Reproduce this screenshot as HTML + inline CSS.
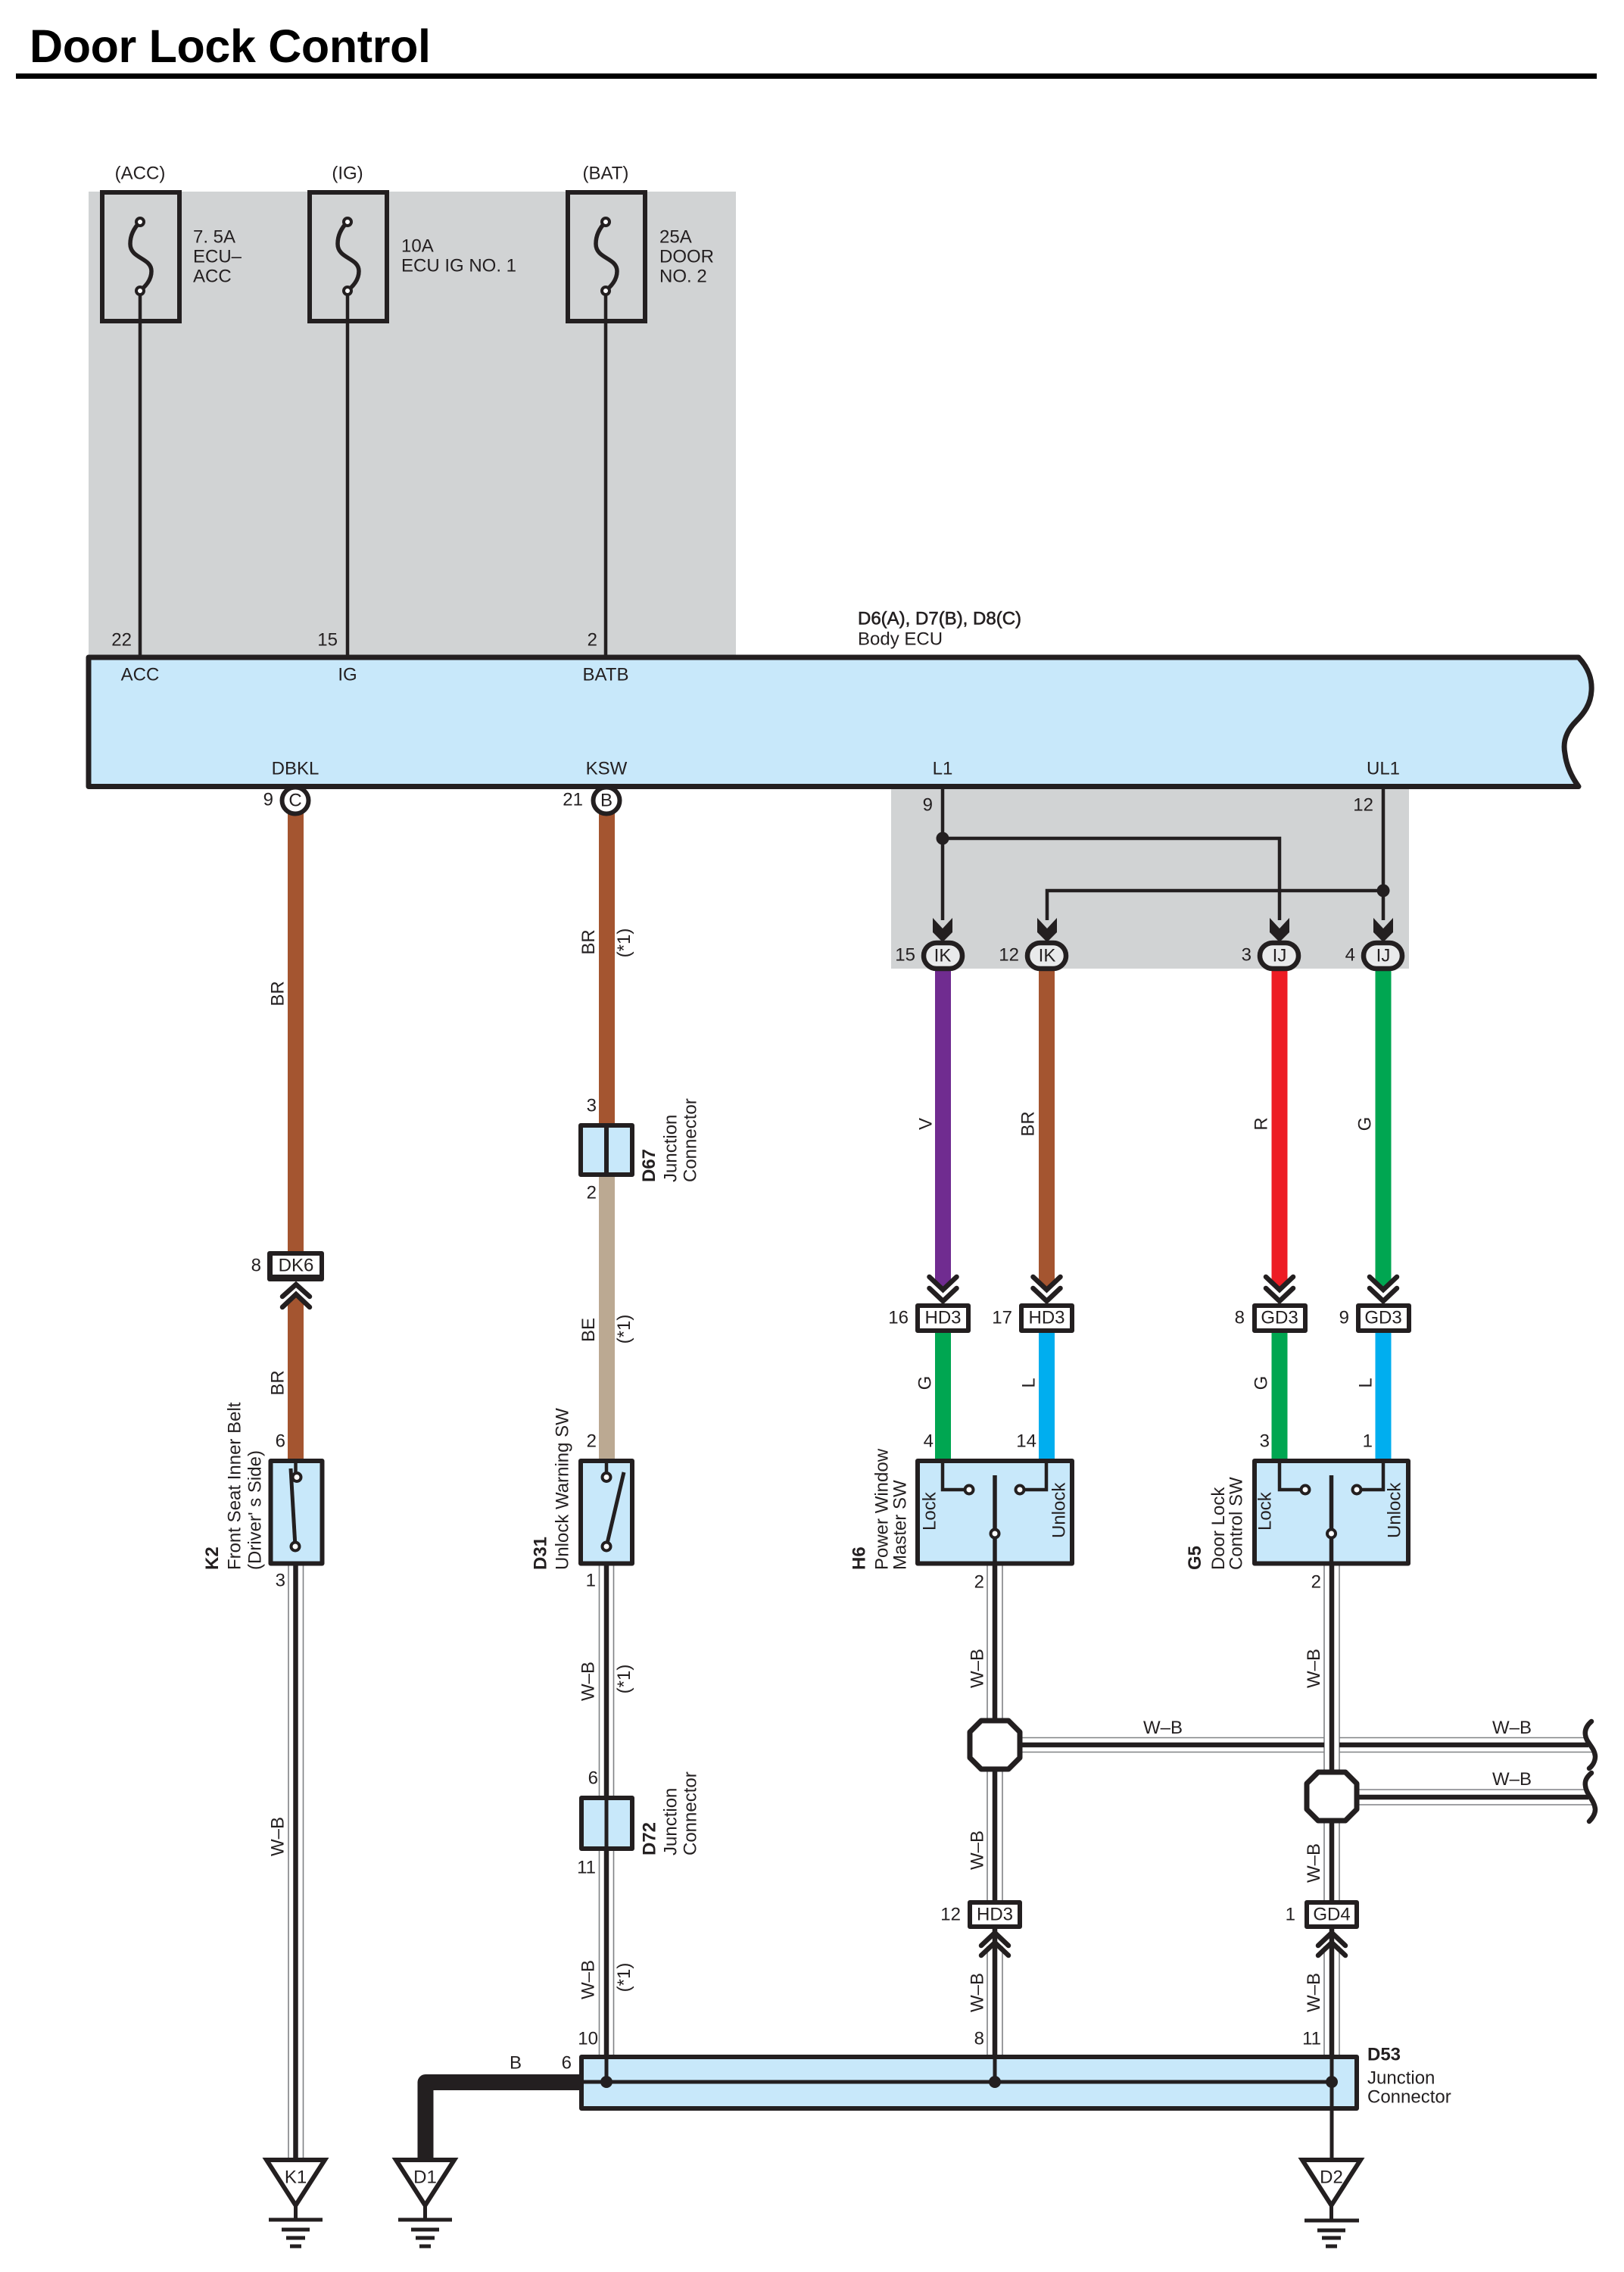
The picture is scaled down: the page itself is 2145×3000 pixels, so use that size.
<!DOCTYPE html>
<html><head><meta charset="utf-8"><title>Door Lock Control</title>
<style>
html,body{margin:0;padding:0;background:#fff}
svg{display:block}
text{font-family:"Liberation Sans",sans-serif;font-size:24px;fill:#231f20}
text:not([transform]){transform:translateY(-1.5px)}
.m{text-anchor:middle}
.e{text-anchor:end}
.b{font-weight:bold}
.k{stroke:#231f20;fill:none;stroke-linejoin:miter}
.c{stroke:#231f20;fill:none;stroke-width:6.5;stroke-linecap:round;stroke-linejoin:miter}
.box{stroke:#231f20;stroke-width:6;fill:#c8e8fa;stroke-linejoin:round}
.wb{stroke:#231f20;stroke-width:6;fill:#fff;stroke-linejoin:round}
.tri{stroke:#231f20;stroke-width:6;fill:#fff;stroke-linejoin:miter}
.g{stroke:#808285;stroke-width:1.6;fill:none}
.t{stroke:#231f20;stroke-width:4;fill:#fff}
</style></head><body>
<svg width="2145" height="3000" viewBox="0 0 2145 3000" xmlns="http://www.w3.org/2000/svg">
<rect width="2145" height="3000" fill="#fff"/>
<text x="39" y="83.5" class="b" style="font-size:61px;fill:#000" textLength="530" lengthAdjust="spacing">Door Lock Control</text>
<rect x="21" y="97" width="2088" height="7" fill="#000"/>

<!-- gray zones -->
<rect x="117" y="253" width="855" height="618" fill="#d1d3d4"/>
<rect x="1177" y="1036" width="684" height="243" fill="#d1d3d4"/>

<!-- fuses -->
<g class="k" style="stroke-width:4.5">
<path d="M185 868V384M459 868V384M800 868V384"/>
</g>
<rect x="135" y="254" width="102" height="170" fill="none" stroke="#231f20" stroke-width="6"/>
<rect x="409" y="254" width="102" height="170" fill="none" stroke="#231f20" stroke-width="6"/>
<rect x="750" y="254" width="102" height="170" fill="none" stroke="#231f20" stroke-width="6"/>
<g class="k" style="stroke-width:5.5">
<path d="M185 293C178 300 172 310 172 322C172 342 200 340 200 358C200 370 192 378 185 384"/>
<path d="M459 293C452 300 446 310 446 322C446 342 474 340 474 358C474 370 466 378 459 384"/>
<path d="M800 293C793 300 787 310 787 322C787 342 815 340 815 358C815 370 807 378 800 384"/>
</g>
<g class="t">
<circle cx="185" cy="293" r="5"/><circle cx="185" cy="384" r="5"/>
<circle cx="459" cy="293" r="5"/><circle cx="459" cy="384" r="5"/>
<circle cx="800" cy="293" r="5"/><circle cx="800" cy="384" r="5"/>
</g>
<text x="185" y="238" class="m">(ACC)</text>
<text x="459" y="238" class="m">(IG)</text>
<text x="800" y="238" class="m">(BAT)</text>
<text x="255" y="322">7. 5A</text><text x="255" y="348">ECU–</text><text x="255" y="374">ACC</text>
<text x="530" y="334">10A</text><text x="530" y="360">ECU IG NO. 1</text>
<text x="871" y="322">25A</text><text x="871" y="348">DOOR</text><text x="871" y="374">NO. 2</text>
<text x="174" y="854" class="e">22</text><text x="446" y="854" class="e">15</text><text x="789" y="854" class="e">2</text>

<!-- ECU -->
<path d="M117 868H2085C2098 882 2103 896 2102 912C2101 930 2092 942 2082 952C2068 966 2064 980 2067 995C2069 1012 2076 1026 2085 1038.5H117Z" class="box" style="stroke-width:7"/>
<text x="185" y="900" class="m">ACC</text><text x="459" y="900" class="m">IG</text><text x="800" y="900" class="m">BATB</text>
<text x="390" y="1024" class="m">DBKL</text><text x="801" y="1024" class="m">KSW</text><text x="1245" y="1024" class="m">L1</text><text x="1827" y="1024" class="m">UL1</text>
<text x="1133" y="826" style="stroke:#231f20;stroke-width:.6">D6(A), D7(B), D8(C)</text>
<text x="1133" y="853">Body ECU</text>

<!-- colored wires -->
<g stroke-width="21" fill="none">
<path d="M390.5 1072V1655" stroke="#a45530"/>
<path d="M801.5 1072V1483" stroke="#a45530"/>
<path d="M801.5 1554V1926" stroke="#bba992"/>
<path d="M1245.5 1758V1926" stroke="#00a651"/>
<path d="M1382.5 1758V1926" stroke="#00aeef"/>
<path d="M1690 1758V1926" stroke="#00a651"/>
<path d="M1827 1758V1926" stroke="#00aeef"/>
</g>
<path d="M380 1926V1719L390.5 1709L401 1719V1926Z" fill="#a45530"/>
<path d="M1235 1279V1690L1245.5 1700L1256 1690V1279Z" fill="#702c90"/>
<path d="M1372 1279V1690L1382.5 1700L1393 1690V1279Z" fill="#a45530"/>
<path d="M1679.5 1279V1690L1690 1700L1700.5 1690V1279Z" fill="#ed1c24"/>
<path d="M1816.5 1279V1690L1827 1700L1837.5 1690V1279Z" fill="#00a651"/>

<!-- C / B connectors -->
<circle cx="390" cy="1057" r="17.5" class="wb"/><circle cx="801" cy="1057" r="17.5" class="wb"/>
<text x="390" y="1066" class="m">C</text><text x="801" y="1066" class="m">B</text>
<text x="361" y="1065" class="e">9</text><text x="770" y="1065" class="e">21</text>

<!-- L1/UL1 junction -->
<g class="k" style="stroke-width:4.5">
<path d="M1245 1042V1215M1245 1107H1690V1215M1827 1042V1215M1827 1176H1383V1215"/>
</g>
<g fill="#231f20"><circle cx="1245" cy="1107" r="8.5"/><circle cx="1827" cy="1176" r="8.5"/>
<path d="M1232 1212L1245 1226L1258 1212V1231L1245 1244L1232 1231Z"/>
<path d="M1370 1212L1383 1226L1396 1212V1231L1383 1244L1370 1231Z"/>
<path d="M1677 1212L1690 1226L1703 1212V1231L1690 1244L1677 1231Z"/>
<path d="M1814 1212L1827 1226L1840 1212V1231L1827 1244L1814 1231Z"/>
</g>
<g stroke="#231f20" stroke-width="6.5" fill="#e9eaeb">
<rect x="1220" y="1245" width="51" height="34" rx="17"/>
<rect x="1357" y="1245" width="51" height="34" rx="17"/>
<rect x="1664" y="1245" width="51" height="34" rx="17"/>
<rect x="1801" y="1245" width="51" height="34" rx="17"/>
</g>
<text x="1245" y="1271" class="m">IK</text><text x="1383" y="1271" class="m">IK</text><text x="1690" y="1271" class="m">IJ</text><text x="1827" y="1271" class="m">IJ</text>
<text x="1209" y="1270" class="e">15</text><text x="1346" y="1270" class="e">12</text><text x="1653" y="1270" class="e">3</text><text x="1790" y="1270" class="e">4</text>
<text x="1232" y="1072" class="e">9</text><text x="1814" y="1072" class="e">12</text>

<!-- wire labels -->
<text transform="translate(1230.5,1484) rotate(-90)" class="m">V</text>
<text transform="translate(1365.5,1484) rotate(-90)" class="m">BR</text>
<text transform="translate(1673.5,1484) rotate(-90)" class="m">R</text>
<text transform="translate(1810.5,1484) rotate(-90)" class="m">G</text>
<text transform="translate(1229.5,1826) rotate(-90)" class="m">G</text>
<text transform="translate(1366.5,1826) rotate(-90)" class="m">L</text>
<text transform="translate(1673.5,1826) rotate(-90)" class="m">G</text>
<text transform="translate(1811.5,1826) rotate(-90)" class="m">L</text>
<text transform="translate(374.5,1312) rotate(-90)" class="m">BR</text>
<text transform="translate(374.5,1826) rotate(-90)" class="m">BR</text>
<text transform="translate(785,1244) rotate(-90)" class="m">BR</text>
<text transform="translate(785,1756) rotate(-90)" class="m">BE</text>
<text transform="translate(832,1245) rotate(-90)" class="m">(*1)</text>
<text transform="translate(832,1755) rotate(-90)" class="m">(*1)</text>

<!-- double chevrons down -->
<path d="M1227.5 1686L1245.5 1703L1263.5 1686M1227.5 1701L1245.5 1718L1263.5 1701" class="c"/>
<path d="M1364.5 1686L1382.5 1703L1400.5 1686M1364.5 1701L1382.5 1718L1400.5 1701" class="c"/>
<path d="M1672 1686L1690 1703L1708 1686M1672 1701L1690 1718L1708 1701" class="c"/>
<path d="M1809 1686L1827 1703L1845 1686M1809 1701L1827 1718L1845 1701" class="c"/>
<!-- connector boxes -->
<g class="wb">
<rect x="1212" y="1724" width="67" height="33"/>
<rect x="1349" y="1724" width="67" height="33"/>
<rect x="1657" y="1724" width="67" height="33"/>
<rect x="1794" y="1724" width="67" height="33"/>
</g>
<rect x="353" y="1652" width="75" height="40" rx="3" fill="#231f20"/>
<rect x="360" y="1658" width="62" height="25" fill="#fff"/>
<text x="1245.5" y="1749" class="m">HD3</text><text x="1382.5" y="1749" class="m">HD3</text><text x="1690" y="1749" class="m">GD3</text><text x="1827" y="1749" class="m">GD3</text>
<text x="1200" y="1749" class="e">16</text><text x="1337" y="1749" class="e">17</text><text x="1644" y="1749" class="e">8</text><text x="1782" y="1749" class="e">9</text>
<text x="391" y="1680" class="m">DK6</text><text x="345" y="1680" class="e">8</text>

<!-- chevrons up DK6 -->
<path d="M373 1712L391 1696L409 1712M373 1726L391 1709L409 1726" class="c"/>

<!-- W-B wires: gray edges -->
<g class="g">
<path d="M381 2067V2849M400.5 2067V2849"/>
<path d="M791.5 2067V2371M810.5 2067V2371M791.5 2444V2713M810.5 2444V2713"/>
<path d="M1304 2067V2272M1324 2067V2272M1304 2336V2510M1324 2336V2510M1304 2570V2713M1324 2570V2713"/>
<path d="M1749 2067V2340M1769 2067V2340M1749 2404V2510M1769 2404V2510M1749 2570V2713M1769 2570V2713"/>
<path d="M1348 2294.5H1749M1769 2294.5H2094M1348 2313.5H1749M1769 2313.5H2105"/>
<path d="M1792 2363H2094M1792 2383H2105"/>
</g>
<g class="k" style="stroke-width:6.5">
<path d="M390.5 2067V2849"/>
<path d="M801 2067V2749"/>
<path d="M1314 2067V2713"/>
<path d="M1759 2067V2713"/>
<path d="M1348 2304H1749M1769 2304H2098"/>
<path d="M1792 2373H2098"/>
</g>
<path d="M2102 2273C2095 2279 2093 2285 2094 2291C2095 2301 2106 2307 2107 2319C2107 2325 2104 2331 2099 2335" class="c"/>
<path d="M2102 2341C2095 2347 2093 2352 2094 2358C2095 2369 2106 2377 2107 2389C2107 2395 2104 2400 2099 2405" class="c"/>

<!-- octagons -->
<path d="M1296 2272H1332L1347 2287V2321L1332 2336H1296L1281 2321V2287Z" class="wb" style="stroke-width:7"/>
<path d="M1741 2340H1777L1792 2355V2389L1777 2404H1741L1726 2389V2355Z" class="wb" style="stroke-width:7"/>

<!-- lower connectors -->
<g class="wb">
<rect x="1281" y="2512" width="66" height="32"/>
<rect x="1726" y="2512" width="66" height="32"/>
</g>
<text x="1314" y="2537" class="m">HD3</text><text x="1759" y="2537" class="m">GD4</text>
<text x="1269" y="2537" class="e">12</text><text x="1711" y="2537" class="e">1</text>
<path d="M1296 2569L1314 2552L1332 2569M1296 2582L1314 2565L1332 2582" class="c"/>
<path d="M1741 2569L1759 2552L1777 2569M1741 2582L1759 2565L1777 2582" class="c"/>

<!-- K2 switch -->
<rect x="357.5" y="1929" width="68" height="135.5" class="box"/>
<path d="M390.5 1926V1950" class="k" style="stroke-width:4.5"/>
<path d="M384 1939L390 2042" class="k" style="stroke-width:5"/>
<circle cx="392" cy="1950.5" r="5.5" class="t"/><circle cx="390" cy="2042" r="5.5" class="t"/>
<text x="377" y="1912" class="e">6</text><text x="377" y="2096" class="e">3</text>
<text transform="translate(288,2073) rotate(-90)" class="b">K2</text>
<text transform="translate(317.5,2073) rotate(-90)">Front Seat Inner Belt</text>
<text transform="translate(344.5,2073) rotate(-90)">(Driver' s Side)</text>

<!-- D31 switch -->
<rect x="767" y="1929" width="68" height="135.5" class="box"/>
<path d="M801 1926V1950" class="k" style="stroke-width:4.5"/>
<path d="M824 1944L801 2042" class="k" style="stroke-width:5"/>
<circle cx="801" cy="1950.5" r="5.5" class="t"/><circle cx="801" cy="2042" r="5.5" class="t"/>
<text x="788" y="1912" class="e">2</text><text x="787" y="2096" class="e">1</text>
<text transform="translate(721.5,2073) rotate(-90)" class="b">D31</text>
<text transform="translate(750.5,2073) rotate(-90)">Unlock Warning SW</text>

<!-- D67 -->
<rect x="767" y="1486" width="68" height="65" class="box"/>
<path d="M801 1483V1554" class="k" style="stroke-width:6"/>
<text x="788" y="1469" class="e">3</text><text x="788" y="1584" class="e">2</text>
<text transform="translate(865,1561) rotate(-90)" class="b">D67</text>
<text transform="translate(893.5,1561) rotate(-90)">Junction</text>
<text transform="translate(919.5,1561) rotate(-90)">Connector</text>

<!-- D72 -->
<rect x="768" y="2374" width="67" height="67" class="box"/>
<path d="M801 2371V2444" class="k" style="stroke-width:5"/>
<text x="790" y="2357" class="e">6</text><text x="787" y="2475" class="e">11</text>
<text transform="translate(865.5,2450) rotate(-90)" class="b">D72</text>
<text transform="translate(893.5,2450) rotate(-90)">Junction</text>
<text transform="translate(919.5,2450) rotate(-90)">Connector</text>

<!-- W-B labels -->
<text transform="translate(374.5,2425) rotate(-90)" class="m">W–B</text>
<text transform="translate(784.5,2220) rotate(-90)" class="m">W–B</text>
<text transform="translate(832,2217) rotate(-90)" class="m">(*1)</text>
<text transform="translate(784.5,2614) rotate(-90)" class="m">W–B</text>
<text transform="translate(832,2611) rotate(-90)" class="m">(*1)</text>
<text transform="translate(1298.5,2203) rotate(-90)" class="m">W–B</text>
<text transform="translate(1298.5,2443) rotate(-90)" class="m">W–B</text>
<text transform="translate(1298.5,2631) rotate(-90)" class="m">W–B</text>
<text transform="translate(1743,2203) rotate(-90)" class="m">W–B</text>
<text transform="translate(1743,2460) rotate(-90)" class="m">W–B</text>
<text transform="translate(1743,2631) rotate(-90)" class="m">W–B</text>
<text x="1536" y="2290.5" class="m">W–B</text>
<text x="1997" y="2290.5" class="m">W–B</text>
<text x="1997" y="2358.5" class="m">W–B</text>

<!-- H6 switch -->
<rect x="1212" y="1929" width="204" height="135.5" class="box"/>
<g class="k" style="stroke-width:4.5">
<path d="M1245 1926V1967H1276M1382 1926V1967H1351"/>
<path d="M1314 1948V2067" style="stroke-width:5.5"/>
</g>
<circle cx="1280" cy="1967" r="5.5" class="t"/><circle cx="1347" cy="1967" r="5.5" class="t"/><circle cx="1314" cy="2025" r="5.5" class="t"/>
<text x="1233" y="1912" class="e">4</text><text x="1369" y="1912" class="e">14</text><text x="1300" y="2098" class="e">2</text>
<text transform="translate(1235.5,2021) rotate(-90)">Lock</text>
<text transform="translate(1406.5,2031) rotate(-90)">Unlock</text>
<text transform="translate(1142.5,2073) rotate(-90)" class="b">H6</text>
<text transform="translate(1172.5,2073) rotate(-90)">Power Window</text>
<text transform="translate(1196.5,2073) rotate(-90)">Master SW</text>

<!-- G5 switch -->
<rect x="1657" y="1929" width="203" height="135.5" class="box"/>
<g class="k" style="stroke-width:4.5">
<path d="M1690 1926V1967H1720M1827 1926V1967H1796"/>
<path d="M1758.5 1948V2067" style="stroke-width:5.5"/>
</g>
<circle cx="1724" cy="1967" r="5.5" class="t"/><circle cx="1792" cy="1967" r="5.5" class="t"/><circle cx="1758.5" cy="2025" r="5.5" class="t"/>
<text x="1677" y="1912" class="e">3</text><text x="1813" y="1912" class="e">1</text><text x="1745" y="2098" class="e">2</text>
<text transform="translate(1678.5,2021) rotate(-90)">Lock</text>
<text transform="translate(1849.5,2031) rotate(-90)">Unlock</text>
<text transform="translate(1586,2073) rotate(-90)" class="b">G5</text>
<text transform="translate(1617,2073) rotate(-90)">Door Lock</text>
<text transform="translate(1640.5,2073) rotate(-90)">Control SW</text>

<!-- D53 -->
<path d="M562 2849V2749.5H765" fill="none" stroke="#231f20" stroke-width="21" stroke-linejoin="round"/>
<rect x="768" y="2716" width="1024" height="68" class="box"/>
<path d="M765 2749H1759M801 2713V2749M1314 2713V2749M1759 2713V2850" class="k" style="stroke-width:5"/>
<g fill="#231f20"><circle cx="801" cy="2749" r="8"/><circle cx="1314" cy="2749" r="8"/><circle cx="1759" cy="2749" r="8"/></g>
<text x="681" y="2733" class="m">B</text><text x="755" y="2733" class="e">6</text>
<text x="790" y="2701" class="e">10</text><text x="1300" y="2701" class="e">8</text><text x="1745" y="2701" class="e">11</text>
<text x="1806" y="2722" class="b">D53</text><text x="1806" y="2753">Junction</text><text x="1806" y="2778">Connector</text>

<!-- grounds -->
<path d="M352 2852H429L390.5 2912Z" class="tri"/>
<path d="M523 2852H600L561.5 2912Z" class="tri"/>
<path d="M1720 2852H1797L1758.5 2912Z" class="tri"/>
<g class="k" style="stroke-width:5">
<path d="M390.5 2912V2931M355 2931H426M372 2944H409M378 2955H403M383 2966H398"/>
<path d="M561.5 2912V2931M526 2931H597M543 2944H580M549 2955H574M554 2966H569"/>
<path d="M1758.5 2912V2932M1723 2932H1795M1740 2945H1777M1746 2955H1771M1751 2966H1766"/>
</g>
<text x="390.5" y="2884" class="m">K1</text><text x="561.5" y="2884" class="m">D1</text><text x="1758.5" y="2884" class="m">D2</text>
</svg>
</body></html>
